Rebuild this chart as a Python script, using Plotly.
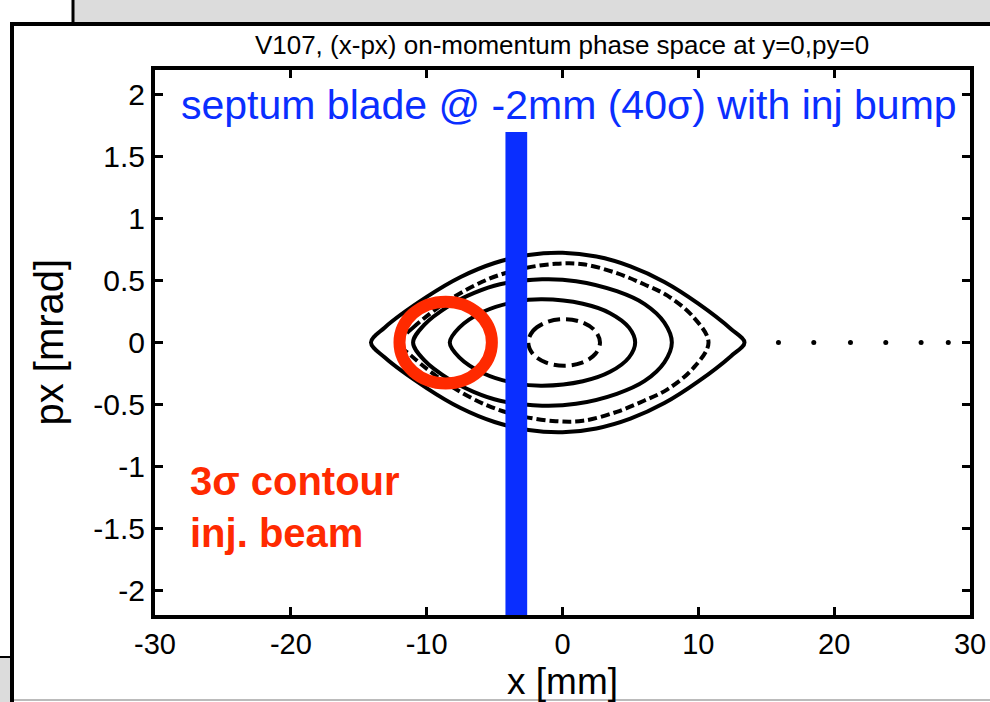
import plotly.graph_objects as go

# ---------------- data ----------------
# outer solid contour (lens shaped)
c1_x = [-14.1, -13.1, -10.0, -7.5, -5.0, -2.5, 0.0, 2.5, 5.0, 7.5, 10.0, 12.4, 13.4,
        12.4, 10.0, 7.5, 5.0, 2.5, 0.0, -2.5, -5.0, -7.5, -10.0, -13.1, -14.1]
c1_y = [0.0, 0.12, 0.368, 0.529, 0.642, 0.707, 0.725, 0.694, 0.615, 0.489, 0.314, 0.11, 0.0,
        -0.11, -0.314, -0.489, -0.615, -0.694, -0.725, -0.707, -0.642, -0.529, -0.368, -0.12, 0.0]
# second (dashed) contour
c2_x = [-12.0, -11.0, -8.3, -5.5, -3.0, -0.5, 1.5, 4.0, 6.0, 7.7, 9.6, 10.75,
        9.6, 7.7, 6.0, 4.0, 1.5, -0.5, -3.0, -5.5, -8.3, -11.0, -12.0]
c2_y = [0.0, 0.12, 0.346, 0.51, 0.595, 0.635, 0.632, 0.56, 0.47, 0.38, 0.21, 0.0,
        -0.21, -0.38, -0.47, -0.56, -0.632, -0.635, -0.595, -0.51, -0.346, -0.12, 0.0]
# third (solid) contour
c3_x = [-11.0, -10.2, -8.3, -6.5, -4.6, -1.5, 1.0, 4.0, 6.05, 7.5, 8.05,
        7.5, 6.05, 4.0, 1.0, -1.5, -4.6, -6.5, -8.3, -10.2, -11.0]
c3_y = [0.0, 0.14, 0.30, 0.40, 0.47, 0.51, 0.495, 0.414, 0.31, 0.16, 0.0,
        -0.16, -0.31, -0.414, -0.495, -0.51, -0.47, -0.40, -0.30, -0.14, 0.0]
# fourth (solid) contour
c4_x = [-8.3, -7.6, -5.8, -3.4, -1.5, 1.5, 3.5, 4.9, 5.35,
        4.9, 3.5, 1.5, -1.5, -3.4, -5.8, -7.6, -8.3]
c4_y = [0.0, 0.12, 0.25, 0.33, 0.349, 0.313, 0.237, 0.12, 0.0,
        -0.12, -0.237, -0.313, -0.349, -0.33, -0.25, -0.12, 0.0]
# inner (dashed) contour
c5_x = [-2.52, -2.17, -1.2, 0.12, 1.44, 2.4, 2.76,
        2.4, 1.44, 0.12, -1.2, -2.17, -2.52]
c5_y = [0.0, 0.094, 0.163, 0.188, 0.163, 0.094, 0.0,
        -0.094, -0.163, -0.188, -0.163, -0.094, 0.0]
# isolated tracked points on the right
dots_x = [15.9, 18.5, 21.2, 23.8, 26.4, 28.4]
dots_y = [0, 0, 0, 0, 0, 0]

# septum blade (x range of blade, vertical extent)
septum_x = [-4.2, -2.6]
septum_y = [-2.2, 1.7]
# injected beam 3-sigma contour (bounding box)
inj_x = [-12.0, -5.2]
inj_y = [-0.33, 0.33]

x_ticks = [-30, -20, -10, 0, 10, 20, 30]
x_tick_text = ["-30", "-20", "-10", "0", "10", "20", "30"]
y_ticks = [-2, -1.5, -1, -0.5, 0, 0.5, 1, 1.5, 2]
y_tick_text = ["-2", "-1.5", "-1", "-0.5", "0", "0.5", "1", "1.5", "2"]

BLACK = "black"
BLUE = "#0A2EFF"
RED = "#FF2A00"
FONT = "Liberation Sans, Arial"

fig = go.Figure()
for cx, cy, d in [(c1_x, c1_y, "solid"), (c2_x, c2_y, "9px,4px"), (c3_x, c3_y, "solid"),
                  (c4_x, c4_y, "solid"), (c5_x, c5_y, "12px,6px")]:
    fig.add_trace(go.Scatter(x=cx, y=cy, mode="lines",
                             line=dict(color=BLACK, width=4, dash=d, shape="spline", smoothing=1.0),
                             showlegend=False, hoverinfo="skip"))
fig.add_trace(go.Scatter(x=dots_x, y=dots_y, mode="markers",
                         marker=dict(color=BLACK, size=5), showlegend=False, hoverinfo="skip"))

# septum blade
fig.add_shape(type="rect", xref="x", yref="y", x0=septum_x[0], x1=septum_x[1],
              y0=septum_y[0], y1=septum_y[1], fillcolor=BLUE, line=dict(width=0), layer="above")
# injected beam contour
fig.add_shape(type="circle", xref="x", yref="y", x0=inj_x[0], x1=inj_x[1],
              y0=inj_y[0], y1=inj_y[1], line=dict(color=RED, width=12), layer="above")

# slide frame decoration (paper coordinates derived from pixel layout)
L, R, T, B = 155, 970, 70, 615
def px(xp):
    return (xp - L) / (R - L)
def py(yp):
    return (B - yp) / (B - T)
fig.add_shape(type="rect", xref="paper", yref="paper", x0=px(74), x1=px(995), y0=py(22), y1=py(-5),
              fillcolor="#DCDCDC", line=dict(width=0), layer="below")
fig.add_shape(type="line", xref="paper", yref="paper", x0=px(73), x1=px(73), y0=py(-5), y1=py(24),
              line=dict(color=BLACK, width=3))
fig.add_shape(type="line", xref="paper", yref="paper", x0=px(10), x1=px(995), y0=py(24), y1=py(24),
              line=dict(color=BLACK, width=4))
fig.add_shape(type="line", xref="paper", yref="paper", x0=px(12), x1=px(12), y0=py(22), y1=py(710),
              line=dict(color=BLACK, width=4))
fig.add_shape(type="rect", xref="paper", yref="paper", x0=px(-5), x1=px(10), y0=py(710), y1=py(657),
              fillcolor="#DCDCDC", line=dict(width=0), layer="below")
fig.add_shape(type="line", xref="paper", yref="paper", x0=px(-5), x1=px(12), y0=py(657), y1=py(657),
              line=dict(color=BLACK, width=2))
fig.add_shape(type="line", xref="paper", yref="paper", x0=px(14), x1=px(995), y0=py(700), y1=py(700),
              line=dict(color="#BBBBBB", width=2))

fig.add_annotation(x=-28.25, y=1.92, xref="x", yref="y", xanchor="left", yanchor="middle",
                   text="septum blade @ -2mm (40σ) with inj bump", showarrow=False,
                   font=dict(family=FONT, size=41, color=BLUE))
fig.add_annotation(x=-27.6, y=-1.33, xref="x", yref="y", xanchor="left", yanchor="middle", align="left",
                   text="<b>3σ contour<br>inj. beam</b>", showarrow=False,
                   font=dict(family=FONT, size=40, color=RED))
# axis titles
fig.add_annotation(x=0.5, y=py(660), xref="paper", yref="paper", xanchor="center", yanchor="top",
                   text="x [mm]", showarrow=False, borderpad=0,
                   font=dict(family=FONT, size=37, color=BLACK))
fig.add_annotation(x=px(48), y=0.5, xref="paper", yref="paper", xanchor="center", yanchor="middle",
                   text="px [mrad]", textangle=-90, showarrow=False,
                   font=dict(family=FONT, size=40, color=BLACK))

fig.update_layout(
    width=990, height=702,
    margin=dict(l=L, r=990 - R, t=T, b=702 - B),
    paper_bgcolor="white", plot_bgcolor="white",
    font=dict(family=FONT, color=BLACK),
    title=dict(text="V107, (x-px) on-momentum phase space at y=0,py=0",
               x=(562 / 990), xanchor="center", y=1 - 45 / 702, yanchor="middle",
               font=dict(size=26, family=FONT)),
    xaxis=dict(range=[-30, 30], tickvals=x_ticks, ticktext=x_tick_text, ticks="inside", ticklen=8,
               tickwidth=3, tickcolor=BLACK, showline=True, linewidth=4, linecolor=BLACK,
               mirror="ticks", showgrid=False, zeroline=False, tickfont=dict(size=29),
               automargin=False),
    yaxis=dict(range=[-2.2, 2.2], tickvals=y_ticks, ticktext=y_tick_text, ticks="inside",
               ticklen=8, tickwidth=3, tickcolor=BLACK, showline=True, linewidth=4,
               linecolor=BLACK, mirror="ticks", showgrid=False, zeroline=False,
               automargin=False, tickfont=dict(size=30)),
)

fig.write_html("out.html")
